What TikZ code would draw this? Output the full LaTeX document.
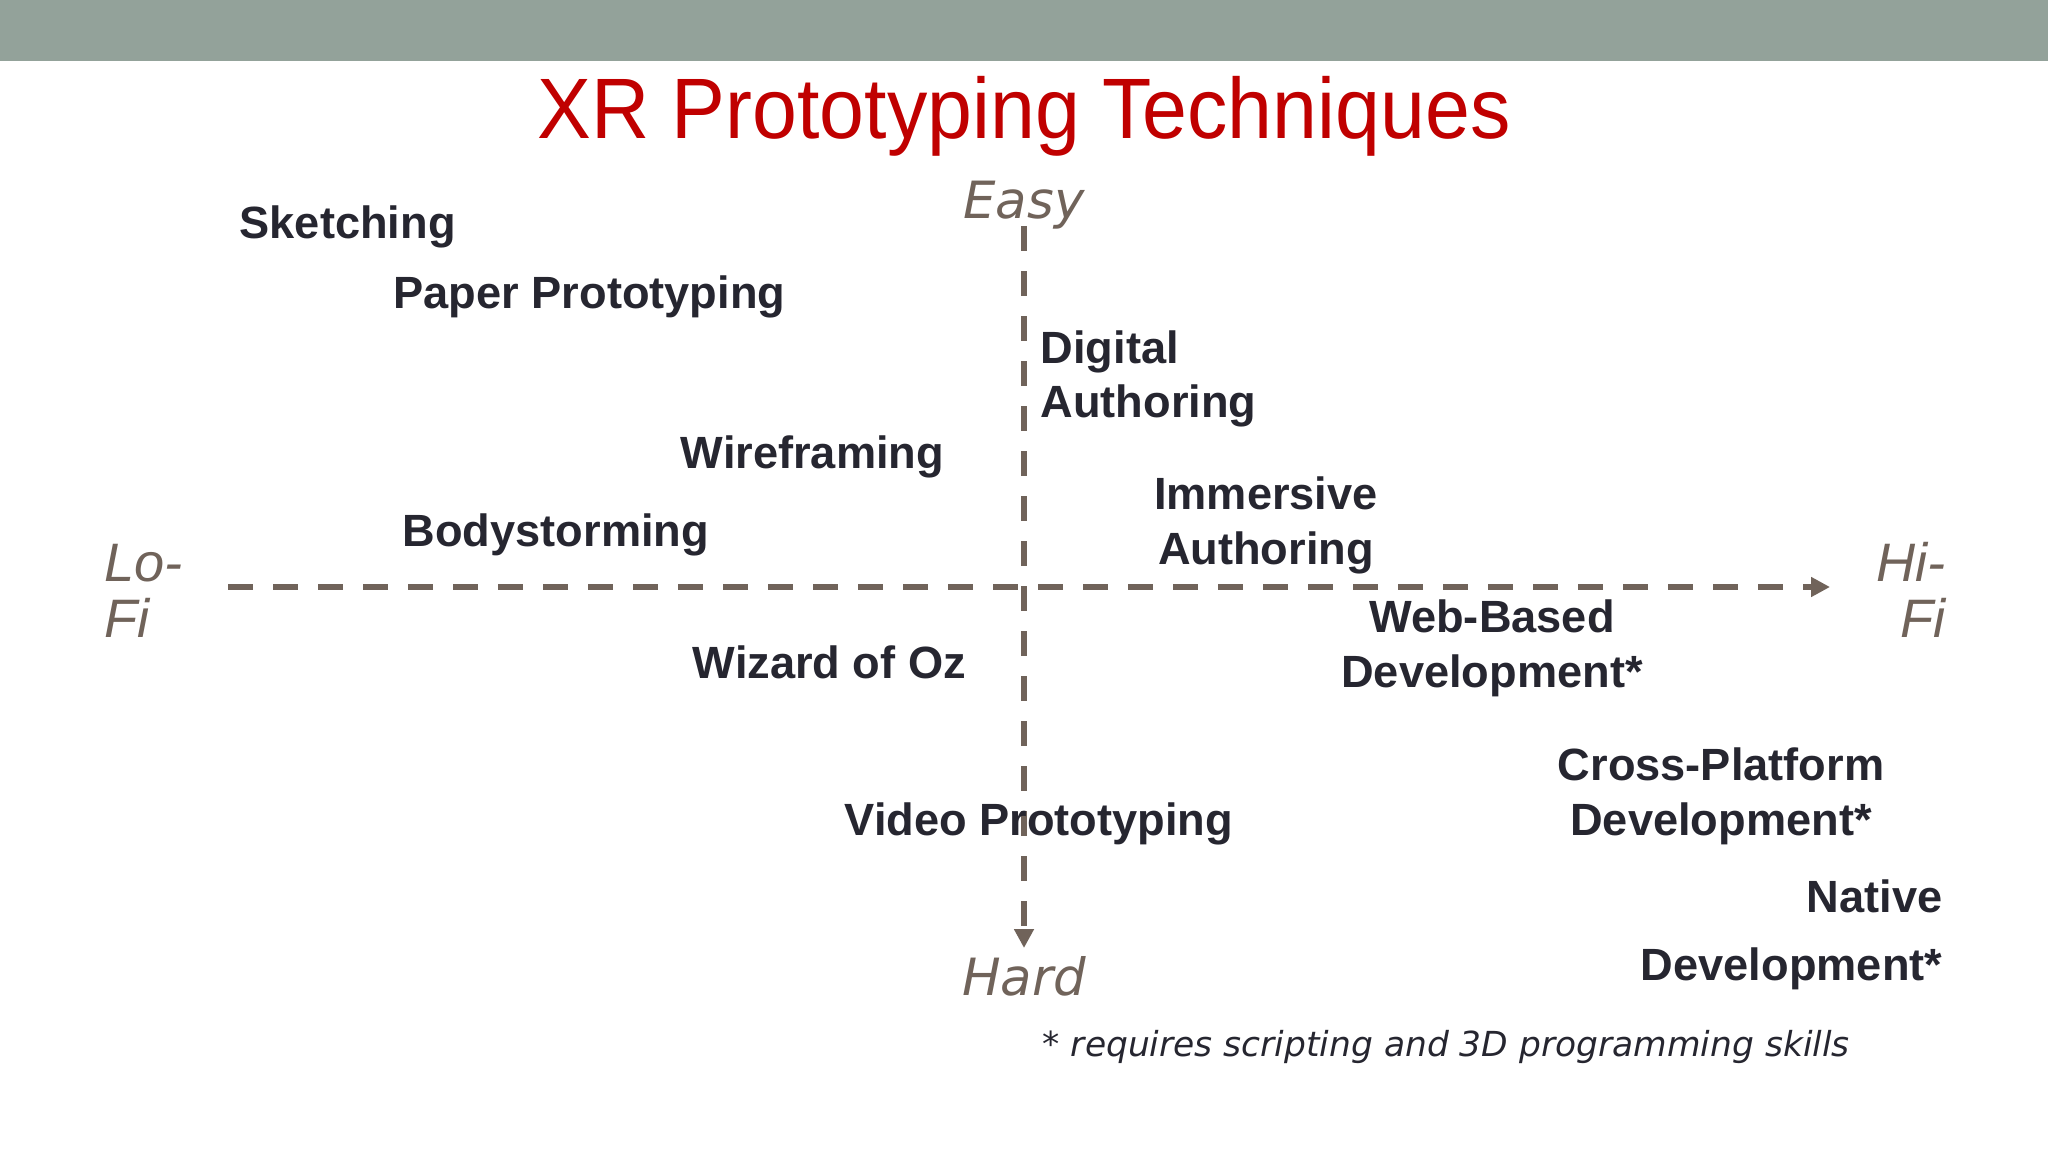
\documentclass[tikz,border=0pt]{standalone}
\usepackage{fontspec}
\setmainfont{Liberation Sans}
\newfontfamily\titlefont[FakeStretch=0.94]{Liberation Sans}
\newfontfamily\axisfont{DejaVu Sans}
\usetikzlibrary{arrows.meta}

\definecolor{barcolor}{RGB}{147,162,154}
\definecolor{titlered}{RGB}{192,0,0}
\definecolor{axiscolor}{RGB}{112,99,90}
\definecolor{labelcolor}{RGB}{38,38,48}

\begin{document}
\begin{tikzpicture}[x=0.01cm, y=-0.01cm,
					technique/.style={inner sep=0pt, text=labelcolor, font=\fontsize{12.85}{15.6}\selectfont\bfseries},
					axislabel/.style={inner sep=0pt, text=axiscolor, font=\axisfont\itshape\fontsize{14.6}{17}\selectfont},
					fidelity/.style={inner sep=0pt, text=axiscolor, font=\itshape\fontsize{15.4}{15.9}\selectfont},
					axis/.style={line width=1.7pt, draw=axiscolor, dash pattern=on 7.1pt off 5.7pt, -{Triangle[length=5.4pt,width=5.4pt]}}
				]
				% Marco de la diapositiva
				\useasboundingbox (0,0) rectangle (2048,1152);
				\fill[barcolor] (0,0) rectangle (2048,61);

				% --- Titulo ---
				\node[anchor=base, inner sep=0pt, text=titlered, font=\titlefont\fontsize{24.4}{29}\selectfont] (title) at (1024,139) {XR Prototyping Techniques};

				% --- Ejes ---
				\coordinate (axis-top) at (1024,226);
				\coordinate (axis-bottom) at (1024,948);
				\coordinate (axis-left) at (228,587);
				\coordinate (axis-right) at (1830,587);
				\draw[axis] (axis-top) -- (axis-bottom);
				\draw[axis] (axis-left) -- (axis-right);

				% --- Etiquetas de los ejes ---
				\node[axislabel, anchor=base] (easy) at (1024,219) {Easy};
				\node[axislabel, anchor=base] (hard) at (1024,995) {Hard};
				\node[fidelity, anchor=base west, align=left] (lofi) at (104,637) {Lo-\\Fi};
				\node[fidelity, anchor=base east, align=right] (hifi) at (1946,637) {Hi-\\Fi};

				% --- Tecnicas (ancla en la linea base de la ultima linea) ---
				\node[technique, anchor=base west] (sketching) at (239,239) {Sketching};
				\node[technique, anchor=base west] (paper) at (393,309) {Paper Prototyping};
				\node[technique, anchor=base west, align=left] (digital) at (1040,418) {Digital\\Authoring};
				\node[technique, anchor=base west] (wireframing) at (680,469) {Wireframing};
				\node[technique, anchor=base, align=center] (immersive) at (1266,564) {Immersive\\Authoring};
				\node[technique, anchor=base west] (bodystorming) at (402,547) {Bodystorming};
				\node[technique, anchor=base, align=center] (webbased) at (1492,687) {Web-Based\\Development*};
				\node[technique, anchor=base west] (wizard) at (692,678) {Wizard of Oz};
				\node[technique, anchor=base, align=center] (crossplatform) at (1721,835) {Cross-Platform\\Development*};
				\node[technique, anchor=base west] (video) at (844,835) {Video Prototyping};
				\node[technique, anchor=base east, align=right] (native) at (1943,980) {Native\\[3.7pt]Development*};

				% --- Nota ---
				\node[anchor=base west, inner sep=0pt, text=labelcolor, font=\axisfont\itshape\fontsize{9.8}{12}\selectfont] (note) at (1042,1056) {* requires scripting and 3D programming skills};

			\end{tikzpicture}
\end{document}
